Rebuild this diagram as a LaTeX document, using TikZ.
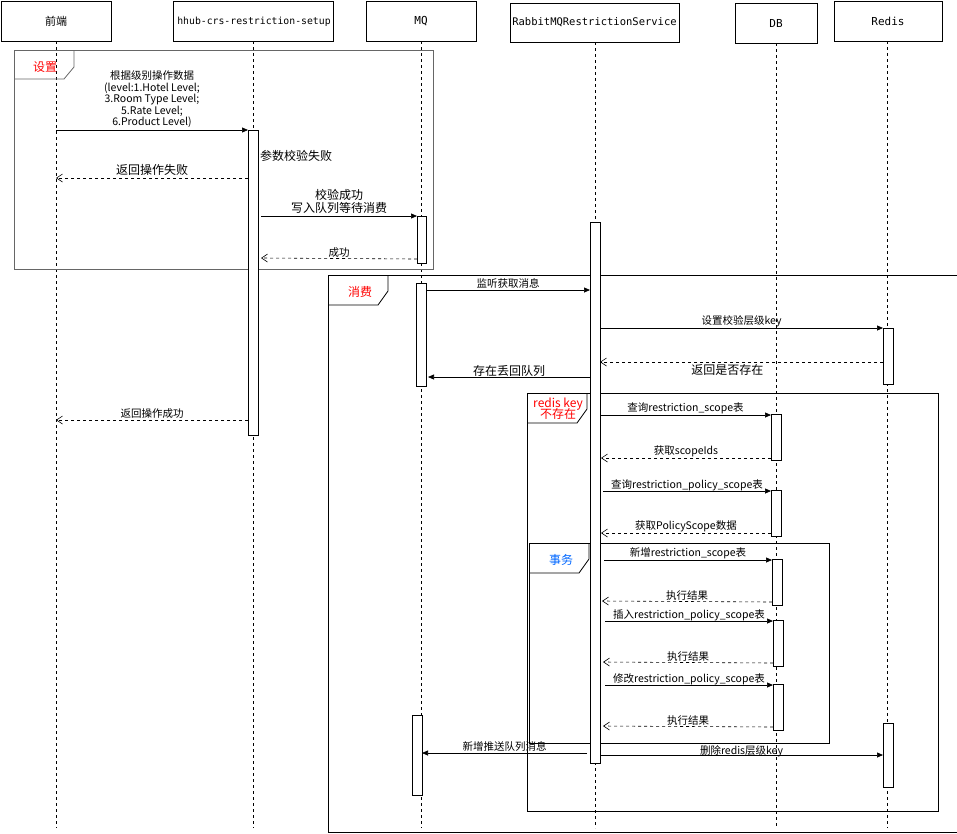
\documentclass[tikz,border=0pt]{standalone}
\usepackage{fontspec}
\setmainfont{Noto Sans CJK SC}
\newfontfamily\monof{DejaVu Sans Mono}
\usetikzlibrary{arrows.meta}
\begin{document}
\begin{tikzpicture}[x=1pt,y=-1pt,
 hdr/.style={draw,inner sep=0pt,font=\monof\fontsize{11}{13}\selectfont},
 life/.style={dashed,line width=0.6pt},
 act/.style={draw,fill=white,line width=0.7pt},
 frm/.style={draw,line width=0.8pt},
 msg/.style={-{Triangle[length=6pt,width=5pt]},line width=0.7pt},
 ret/.style={dashed,-{Straight Barb[length=6pt,width=8pt]},line width=0.6pt},
 lab/.style={font=\fontsize{10.5}{12}\selectfont,inner sep=1pt,align=center},
 lab2/.style={font=\fontsize{12}{13}\selectfont,inner sep=1pt,align=center}]
\useasboundingbox (0,0) rectangle (957,833);
% headers
\node[hdr,minimum width=110pt,minimum height=40pt] (h1) at (56,21) {\fontspec{Noto Sans CJK SC}\fontsize{11}{12}\selectfont 前端};
\node[hdr,minimum width=160pt,minimum height=40pt] (h2) at (253,21) {};
\node[font=\monof\fontsize{9.8}{12}\selectfont] at (254,22) {hhub-crs-restriction-setup};
\node[hdr,minimum width=110pt,minimum height=40pt] (h3) at (421,21) {MQ};
\node[hdr,minimum width=169pt,minimum height=39pt,font=\monof\fontsize{10.5}{12}\selectfont] (h4) at (594.5,22.5) {RabbitMQRestrictionService};
\node[hdr,minimum width=82pt,minimum height=40pt] (h5) at (776,23) {DB};
\node[hdr,minimum width=108pt,minimum height=40pt] (h6) at (888,21) {Redis};
\coordinate (e1) at (56,828);\coordinate (e2) at (253,828);\coordinate (e3) at (421,828);
\coordinate (e4) at (595,828);\coordinate (e5) at (776,828);\coordinate (e6) at (887,828);
\draw[life] (h1.south)--(e1);\draw[life] (253,41)--(e2);\draw[life] (h3.south)--(e3);
\draw[life] (595,42)--(e4);\draw[life] (h5.south)--(e5);\draw[life] (887,41)--(e6);
% frames
\draw[frm,gray!80!black] (14,50) rectangle (433,269);
\draw[frm,gray!80!black] (14,79)--(64,79)--(74,67)--(74,50);
\node[lab2,text=red] at (45,67) {设置};
\draw[frm] (328,275) rectangle (957,832);
\draw[frm] (328,305)--(378,305)--(388,291)--(388,275);
\node[lab2,text=red] at (360,292) {消费};
\draw[frm] (527,393) rectangle (938,811);
\draw[frm] (527,423)--(577,423)--(587,409)--(587,393);
\node[lab2,text=red,font=\fontsize{12}{12}\selectfont] at (558,409) {redis key\\[-3pt]不存在};
\draw[frm] (529,543) rectangle (829,743);
\draw[frm] (529,573)--(579,573)--(589,559)--(589,543);
\node[lab2,text=blue!60!cyan] at (561,560) {事务};
% activations
\draw[act] (248,130) rectangle (258,435);
\draw[act] (417,216) rectangle (426,263);
\draw[act] (416,283) rectangle (426,386);
\draw[act] (412,715) rectangle (422,795);
\draw[act] (590,222) rectangle (600,763);
\draw[act] (883,328) rectangle (893,384);
\draw[act] (883,723) rectangle (893,787);
\draw[act] (771,414) rectangle (781,460);
\draw[act] (771,490) rectangle (781,536);
\draw[act] (772,559) rectangle (782,605);
\draw[act] (773,620) rectangle (783,666);
\draw[act] (773,684) rectangle (783,730);
% coordinates for messages
\foreach \n/\x/\y in {a1/56/130,a2/248/130,b1/248/178,b2/56/178,c1/261/216,c2/417/216,d1/417/259,d2/261/258,
 f1/426/290,f2/590/290,g1/600/328,g2/883/328,k1/883/362,k2/600/362,m1/590/377,m2/428/377,n1/248/420,n2/56/420,
 p1/600/415,p2/771/415,q1/771/458,q2/601/458,r1/603/491,r2/771/491,s1/771/533,s2/601/533,
 t1/604/560,t2/772/560,u1/772/602,u2/602/601,v1/605/621,v2/773/621,w1/773/663,w2/603/662,
 x1/605/685,x2/773/685,y1/773/727,y2/603/726,z1/587/753,z2/422/753,zz1/600/755,zz2/883/755}
 {\coordinate (\n) at (\x,\y);}
\draw[msg] (a1)--(a2) node[lab,midway,above=1pt,font=\fontsize{10.5}{11.5}\selectfont] {根据级别操作数据\\(level:1.Hotel Level;\\3.Room Type Level;\\5.Rate Level;\\6.Product Level)};
\node[lab2,anchor=west] (t0) at (259,156) {参数校验失败};
\draw[ret] (b1)--(b2) node[lab2,midway,above=1pt] {返回操作失败};
\draw[msg] (c1)--(c2) node[lab2,midway,above=1pt] {校验成功\\写入队列等待消费};
\draw[ret] (d1)--(d2) node[lab,midway,above=0pt] {成功};
\draw[msg] (f1)--(f2) node[lab,midway,above=0pt] {监听获取消息};
\draw[msg] (g1)--(g2) node[lab,midway,above=0pt] {设置校验层级key};
\draw[ret] (k1)--(k2) node[lab2,pos=0.55,below=1pt] {返回是否存在};
\draw[msg] (m1)--(m2) node[lab2,midway,above=-1pt] {存在丢回队列};
\draw[ret] (n1)--(n2) node[lab,midway,above=0pt] {返回操作成功};
\draw[msg] (p1)--(p2) node[lab,midway,above=0pt] {查询restriction\_scope表};
\draw[ret] (q1)--(q2) node[lab,midway,above=0pt] {获取scopeIds};
\draw[msg] (r1)--(r2) node[lab,midway,above=-1pt] {查询restriction\_policy\_scope表};
\draw[ret] (s1)--(s2) node[lab,midway,above=0pt] {获取PolicyScope数据};
\draw[msg] (t1)--(t2) node[lab,midway,above=0pt] {新增restriction\_scope表};
\draw[ret] (u1)--(u2) node[lab,midway,above=0pt] {执行结果};
\draw[msg] (v1)--(v2) node[lab,midway,above=-1pt] {插入restriction\_policy\_scope表};
\draw[ret] (w1)--(w2) node[lab,midway,above=0pt] {执行结果};
\draw[msg] (x1)--(x2) node[lab,midway,above=-1pt] {修改restriction\_policy\_scope表};
\draw[ret] (y1)--(y2) node[lab,midway,above=0pt] {执行结果};
\draw[msg] (z1)--(z2) node[lab,midway,above=0pt] {新增推送队列消息};
\draw[msg] (zz1)--(zz2) node[lab,midway,above=-3pt] {删除redis层级key};
\end{tikzpicture}
\end{document}
